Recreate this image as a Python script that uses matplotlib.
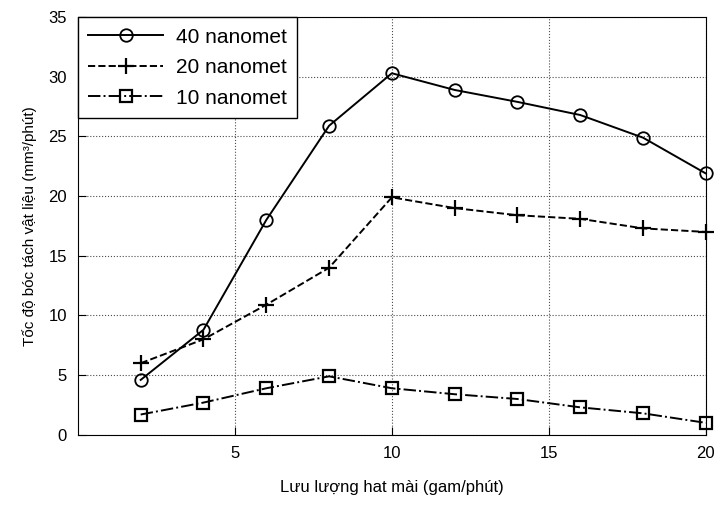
import matplotlib.pyplot as plt

plt.rcParams['font.family'] = ['Liberation Sans', 'DejaVu Sans']

# flow rate of abrasive particles (gam/phut)
luu_luong = [2, 4, 6, 8, 10, 12, 14, 16, 18, 20]

# material removal rate for each particle size
hat_40nm = [4.6, 8.8, 18.0, 25.9, 30.3, 28.9, 27.9, 26.8, 24.9, 21.9]
hat_20nm = [6.0, 8.0, 10.9, 14.0, 19.9, 19.0, 18.4, 18.1, 17.3, 17.0]
hat_10nm = [1.7, 2.7, 3.9, 4.9, 3.9, 3.4, 3.0, 2.3, 1.8, 1.0]

labels = ['40 nanomet', '20 nanomet', '10 nanomet']
x_ticks = [5, 10, 15, 20]
y_ticks = [0, 5, 10, 15, 20, 25, 30, 35]

fig = plt.figure(figsize=(7.21, 5.05), dpi=100)
ax = fig.add_axes([0.108, 0.139, 0.871, 0.827])

ax.plot(luu_luong, hat_40nm, '-', color='black', lw=1.4, clip_on=False,
        marker='o', ms=9, mfc='none', mew=1.3, label=labels[0])
ax.plot(luu_luong, hat_20nm, '--', color='black', lw=1.4, clip_on=False,
        marker='+', ms=11, mew=1.6, label=labels[1])
ax.plot(luu_luong, hat_10nm, '-.', color='black', lw=1.4, clip_on=False,
        marker='s', ms=9, mfc='none', mew=1.6, label=labels[2])

ax.set_xlim(0, 20)
ax.set_ylim(0, 35)
ax.set_xticks(x_ticks)
ax.set_yticks(y_ticks)
ax.tick_params(direction='in', labelsize=12, length=6, pad=8)
ax.grid(True, linestyle=':', color='black', lw=0.8, alpha=0.7)

ax.set_xlabel('Lưu lượng hat mài (gam/phút)', fontsize=12, labelpad=14)
ax.set_ylabel('Tốc độ bóc tách vật liệu (mm³/phút)', fontsize=11, labelpad=8)

leg = ax.legend(loc='upper left', fontsize=15, handlelength=3.6,
                fancybox=False, edgecolor='black', framealpha=1,
                borderaxespad=0.0, labelspacing=0.55, borderpad=0.5,
                handletextpad=0.6)
leg.get_frame().set_linewidth(1.0)

fig.savefig('out.png', dpi=100)
